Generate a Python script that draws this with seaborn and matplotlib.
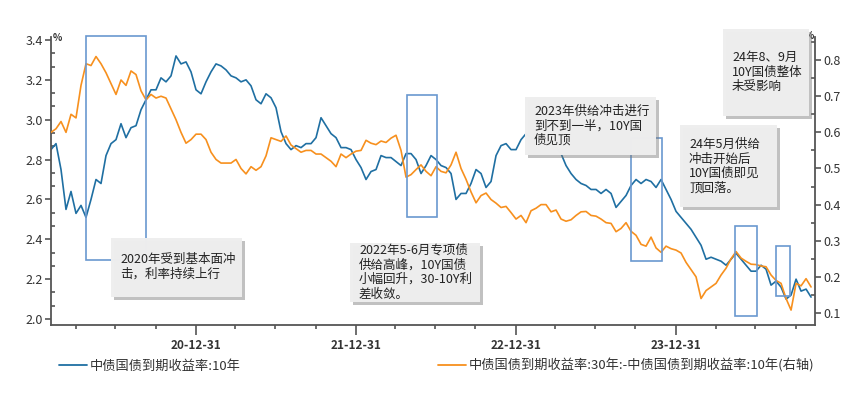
import matplotlib
matplotlib.use("Agg")
import matplotlib.pyplot as plt
import matplotlib.dates as mdates
import matplotlib.patheffects as pe
from matplotlib.lines import Line2D
from matplotlib.patches import Rectangle
from matplotlib.ticker import MultipleLocator, AutoMinorLocator, FormatStrFormatter
import pandas as pd
import seaborn as sns

# sampled roughly every 11 days, 2020-02-04 .. 2024-11-04
START, END = "2020-02-04", "2024-11-04"

yield_10y = [
    2.85, 2.88, 2.75, 2.55, 2.64, 2.53, 2.57, 2.51, 2.60, 2.70,
    2.68, 2.82, 2.88, 2.90, 2.98, 2.91, 2.96, 2.97, 3.05, 3.10,
    3.15, 3.15, 3.21, 3.19, 3.22, 3.32, 3.28, 3.29, 3.24, 3.15,
    3.13, 3.19, 3.24, 3.28, 3.27, 3.25, 3.22, 3.21, 3.19, 3.20,
    3.17, 3.10, 3.08, 3.13, 3.11, 3.06, 2.94, 2.88, 2.85, 2.87,
    2.86, 2.88, 2.88, 2.91, 3.01, 2.97, 2.93, 2.91, 2.86, 2.86,
    2.85, 2.80, 2.76, 2.70, 2.74, 2.75, 2.82, 2.81, 2.81, 2.79,
    2.77, 2.83, 2.83, 2.80, 2.73, 2.77, 2.82, 2.80, 2.77, 2.76,
    2.73, 2.60, 2.63, 2.63, 2.68, 2.75, 2.73, 2.66, 2.69, 2.82,
    2.87, 2.88, 2.85, 2.85, 2.90, 2.93, 2.91, 2.90, 2.89, 2.88,
    2.87, 2.86, 2.83, 2.77, 2.73, 2.70, 2.68, 2.67, 2.65, 2.65,
    2.63, 2.65, 2.63, 2.56, 2.59, 2.62, 2.67, 2.70, 2.68, 2.70,
    2.69, 2.66, 2.70, 2.65, 2.60, 2.54, 2.51, 2.48, 2.45, 2.41,
    2.37, 2.30, 2.31, 2.30, 2.29, 2.27, 2.30, 2.33, 2.30, 2.27,
    2.24, 2.24, 2.27, 2.25, 2.17, 2.19, 2.16, 2.10, 2.12, 2.20,
    2.14, 2.15, 2.11,
]

spread_30_10 = [
    0.600, 0.610, 0.630, 0.600, 0.650, 0.640, 0.730, 0.790, 0.785, 0.810,
    0.790, 0.765, 0.735, 0.705, 0.745, 0.730, 0.770, 0.760, 0.715, 0.690,
    0.705, 0.695, 0.700, 0.695, 0.665, 0.635, 0.600, 0.570, 0.580, 0.595,
    0.595, 0.580, 0.545, 0.525, 0.515, 0.515, 0.515, 0.525, 0.500, 0.485,
    0.505, 0.495, 0.505, 0.535, 0.585, 0.580, 0.575, 0.590, 0.565, 0.555,
    0.545, 0.550, 0.550, 0.540, 0.540, 0.530, 0.520, 0.505, 0.540, 0.530,
    0.540, 0.548, 0.550, 0.578, 0.570, 0.566, 0.576, 0.572, 0.584, 0.592,
    0.550, 0.476, 0.483, 0.497, 0.510, 0.492, 0.480, 0.505, 0.492, 0.488,
    0.510, 0.545, 0.500, 0.470, 0.435, 0.405, 0.425, 0.432, 0.414, 0.404,
    0.392, 0.395, 0.378, 0.360, 0.370, 0.350, 0.383, 0.390, 0.400, 0.400,
    0.380, 0.385, 0.360, 0.354, 0.358, 0.370, 0.380, 0.381, 0.370, 0.368,
    0.360, 0.350, 0.348, 0.325, 0.334, 0.350, 0.326, 0.315, 0.290, 0.285,
    0.310, 0.280, 0.268, 0.285, 0.278, 0.274, 0.266, 0.240, 0.220, 0.200,
    0.140, 0.162, 0.172, 0.182, 0.205, 0.224, 0.250, 0.270, 0.252, 0.243,
    0.235, 0.234, 0.230, 0.228, 0.205, 0.190, 0.182, 0.140, 0.108, 0.182,
    0.175, 0.195, 0.172,
]

series_labels = [
    "中债国债到期收益率:10年",
    "中债国债到期收益率:30年:-中债国债到期收益率:10年(右轴)",
]

# highlighted windows: start, end, low, high (left-axis units)
window_starts = ["2020-04-24", "2022-04-27", "2023-09-20", "2024-05-15", "2024-08-16"]
window_ends = ["2020-09-08", "2022-07-04", "2023-11-30", "2024-07-04", "2024-09-17"]
window_lows = [2.296, 2.512, 2.291, 2.015, 2.115]
window_highs = [3.42, 3.124, 2.908, 2.467, 2.366]

notes = [
    "2020年受到基本面冲\n击，利率持续上行",
    "2022年5-6月专项债\n供给高峰，10Y国债\n小幅回升，30-10Y利\n差收敛。",
    "2023年供给冲击进行\n到不到一半，10Y国\n债见顶",
    "24年5月供给\n冲击开始后\n10Y国债即见\n顶回落。",
    "24年8、9月\n10Y国债整体\n未受影响",
]
# note boxes in pixels: left, top, right, bottom
note_boxes = [(111, 238, 242, 297), (350, 243, 480, 302), (525, 97, 656, 155),
              (680, 125, 777, 207), (723, 29, 809, 116)]
note_text_top = [253, 244, 105, 138, 51]

W, H = 865, 394
BLUE, ORANGE = "#1f6fa2", "#f7901e"
BOX_EDGE = "#6a98cf"
GREY = "#555555"

sns.set_style("ticks")
plt.rcParams["font.family"] = ["Noto Sans CJK SC", "DejaVu Sans"]
plt.rcParams["axes.unicode_minus"] = False

dates = pd.date_range(START, END, periods=len(yield_10y))
df = pd.DataFrame({"date": dates, "y10": yield_10y, "spread": spread_30_10})

fig = plt.figure(figsize=(W / 100, H / 100), dpi=100)
ax = fig.add_axes([51 / W, 1 - 325 / H, (815 - 51) / W, (325 - 37) / H])
ax2 = ax.twinx()

sns.lineplot(data=df, x="date", y="y10", ax=ax, color=BLUE, lw=1.2)
sns.lineplot(data=df, x="date", y="spread", ax=ax2, color=ORANGE, lw=1.2)

ax.set_xlim(pd.Timestamp("2020-02-04"), pd.Timestamp("2024-11-13"))
ax.set_ylim(1.97, 3.415)
ax2.set_ylim(0.0667, 0.864)
for a in (ax, ax2):
    a.set_xlabel("")
    a.set_ylabel("")

ax.xaxis.set_major_locator(mdates.MonthLocator(bymonth=12, bymonthday=31))
ax.xaxis.set_minor_locator(mdates.MonthLocator(bymonth=(3, 6, 9, 12), bymonthday=-1))
ax.xaxis.set_major_formatter(mdates.DateFormatter("%y-%m-%d"))
ax.yaxis.set_major_locator(MultipleLocator(0.2))
ax.yaxis.set_minor_locator(AutoMinorLocator(3))
ax.yaxis.set_major_formatter(FormatStrFormatter("%.1f"))
ax2.yaxis.set_major_locator(MultipleLocator(0.1))
ax2.yaxis.set_minor_locator(AutoMinorLocator(2))
ax2.yaxis.set_major_formatter(FormatStrFormatter("%.1f"))

for s in ("top", "right"):
    ax.spines[s].set_visible(False)
for s in ("top", "left", "bottom"):
    ax2.spines[s].set_visible(False)
for a in (ax, ax2):
    for sp in a.spines.values():
        sp.set_color(GREY)
        sp.set_linewidth(1.3)

ax.tick_params(axis="y", which="major", direction="out", length=4, width=1.2,
               colors=GREY, labelcolor="#333333", labelsize=9, pad=2)
ax.tick_params(axis="y", which="minor", direction="in", length=3, width=1.2, colors=GREY)
ax2.tick_params(axis="y", which="major", direction="out", length=4, width=1.2,
                colors=GREY, labelcolor="#333333", labelsize=9, pad=2)
ax2.tick_params(axis="y", which="minor", direction="in", length=3, width=1.2, colors=GREY)
ax.tick_params(axis="x", which="major", direction="out", length=7, width=1.2,
               colors=GREY, labelcolor="#333333", labelsize=8.5, pad=3)
ax.tick_params(axis="x", which="minor", direction="out", length=3, width=1.2, colors=GREY)
plt.setp(ax.get_xticklabels(), fontweight="bold")

ax.text(0.008, 0.998, "%", transform=ax.transAxes, fontsize=7, fontweight="bold",
        color="#333333", ha="center", va="center")
ax2.text(0.992, 1.004, "%", transform=ax2.transAxes, fontsize=7, fontweight="bold",
         color="#333333", ha="center", va="center")

# highlighted windows, drawn on top of both lines
for s, e, lo, hi in zip(window_starts, window_ends, window_lows, window_highs):
    x0 = mdates.date2num(pd.Timestamp(s))
    x1 = mdates.date2num(pd.Timestamp(e))
    rect = Rectangle((x0, lo), x1 - x0, hi - lo, transform=ax.transData,
                     fill=False, ec=BOX_EDGE, lw=1.2, clip_on=False, zorder=5)
    ax2.add_artist(rect)

# callout boxes with a soft shadow
for text, (l, t, r, b), ty in zip(notes, note_boxes, note_text_top):
    box = Rectangle((l / W, 1 - b / H), (r - l) / W, (b - t) / H, transform=fig.transFigure,
                    fc="#eeeeee", ec="none", alpha=0.9, zorder=4,
                    path_effects=[pe.withSimplePatchShadow(offset=(2.5, -2.5),
                                                           shadow_rgbFace="#777777", alpha=0.45),
                                  pe.Normal()])
    fig.add_artist(box)
    fig.text((l + 9) / W, 1 - ty / H, text, fontsize=9, fontweight="medium", color="#222222",
             ha="left", va="top", linespacing=1.15, zorder=6)

legend_y = 1 - 366 / H
for handle_color, label, lx in zip([BLUE, ORANGE], series_labels, [59, 438]):
    leg = fig.legend(handles=[Line2D([], [], color=handle_color, lw=1.3)], labels=[label],
                     loc="center left", bbox_to_anchor=(lx / W, legend_y), frameon=False,
                     fontsize=9.5, handlelength=2.1, handletextpad=0.25, borderpad=0,
                     borderaxespad=0)
    for t in leg.get_texts():
        t.set_color("#333333")

fig.savefig("out.png", dpi=100)
